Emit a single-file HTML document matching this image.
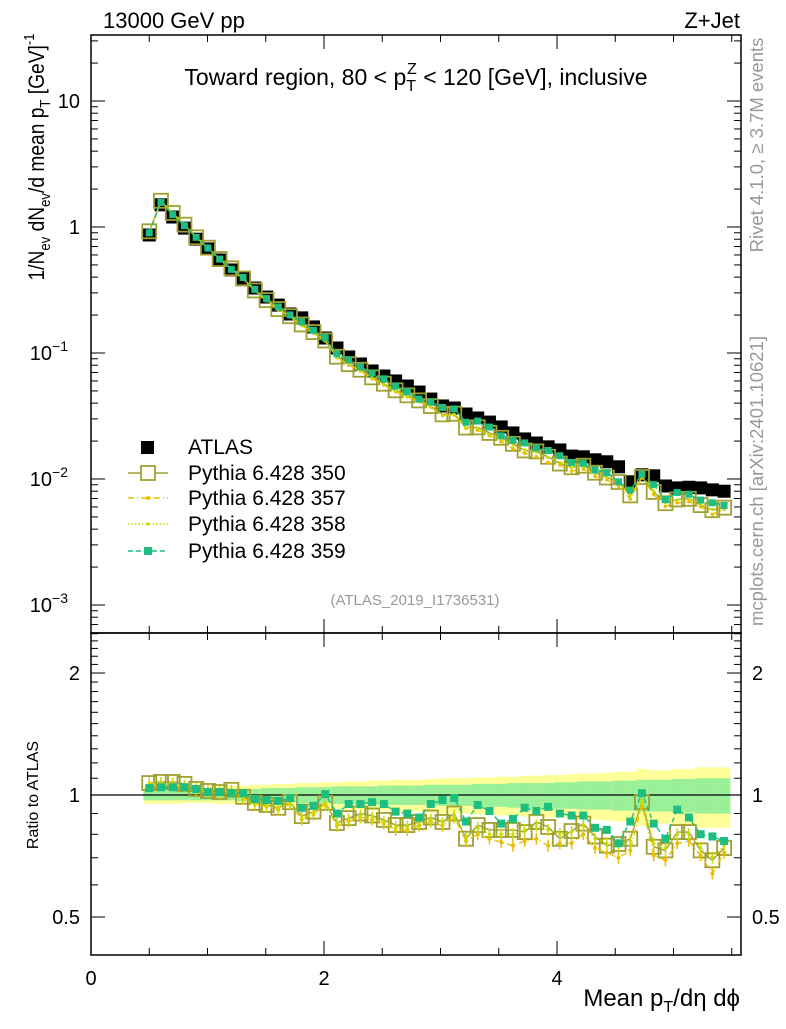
<!DOCTYPE html>
<html><head><meta charset="utf-8"><style>
body{margin:0;background:#fff;}
svg text{font-family:"Liberation Sans",sans-serif;}
</style></head><body>
<svg id="c" width="786" height="1024" viewBox="0 0 786 1024" xmlns="http://www.w3.org/2000/svg"></svg>
<script>
const atlas=[0.864,1.50,1.20,0.98,0.80,0.67,0.547,0.456,0.394,0.328,0.278,0.240,0.204,0.190,0.161,0.1315,0.1096,0.093,0.0818,0.072,0.0657,0.060,0.0547,0.049,0.0431,0.0380,0.0366,0.0328,0.0305,0.0283,0.0259,0.0232,0.0208,0.0193,0.0180,0.0170,0.0152,0.0150,0.0142,0.0137,0.0125,0.0095,0.0108,0.0106,0.0088,0.0085,0.0086,0.0085,0.0082,0.0080];
const r359=[1.04,1.045,1.045,1.045,1.035,1.017,1.017,1.012,1.01,0.977,0.972,0.967,0.983,0.93,0.94,1.005,0.90,0.95,0.95,0.96,0.95,0.91,0.90,0.88,0.95,0.972,0.983,0.86,0.945,0.913,0.85,0.873,0.93,0.913,0.935,0.90,0.89,0.89,0.83,0.82,0.76,0.86,1.01,0.85,0.78,0.92,0.88,0.80,0.79,0.77];
const r350=[1.07,1.077,1.077,1.065,1.035,1.023,1.017,1.03,0.99,0.956,0.945,0.93,0.96,0.887,0.91,0.956,0.853,0.877,0.90,0.89,0.868,0.843,0.843,0.858,0.88,0.858,0.90,0.78,0.843,0.82,0.82,0.82,0.81,0.858,0.834,0.78,0.815,0.85,0.79,0.75,0.757,0.78,0.96,0.745,0.73,0.81,0.81,0.73,0.69,0.74];
const r357=[1.06,1.065,1.06,1.05,1.03,1.02,1.01,1.02,0.98,0.95,0.935,0.92,0.95,0.87,0.895,0.95,0.84,0.86,0.88,0.87,0.85,0.82,0.82,0.84,0.86,0.84,0.88,0.77,0.80,0.78,0.765,0.75,0.77,0.78,0.75,0.76,0.76,0.80,0.74,0.72,0.70,0.73,0.95,0.71,0.69,0.76,0.77,0.71,0.64,0.72];
const r358=[1.07,1.07,1.065,1.055,1.04,1.02,1.015,1.025,0.985,0.955,0.94,0.93,0.955,0.88,0.905,0.955,0.85,0.87,0.89,0.88,0.86,0.835,0.835,0.85,0.87,0.85,0.89,0.78,0.83,0.80,0.80,0.80,0.82,0.84,0.82,0.80,0.81,0.84,0.78,0.76,0.75,0.77,0.97,0.76,0.74,0.80,0.80,0.74,0.70,0.75];
const errG=[.03,.03,.03,.03,.03,.03,.03,.03,.035,.035,.04,.04,.04,.045,.045,.045,.05,.05,.05,.05,.055,.055,.055,.055,.06,.06,.06,.06,.065,.065,.065,.07,.07,.07,.07,.075,.075,.08,.08,.08,.085,.085,.09,.09,.09,.095,.095,.1,.1,.1];
const errY=[.05,.05,.05,.045,.045,.045,.05,.05,.055,.06,.06,.065,.065,.07,.07,.075,.075,.08,.08,.085,.085,.09,.09,.09,.095,.1,.1,.1,.105,.105,.11,.11,.115,.115,.12,.12,.125,.13,.13,.135,.14,.14,.16,.15,.15,.16,.16,.17,.17,.17];
const xTicks=[0,2,4];
const yTicks=[{v:10,l:"10"},{v:1,l:"1"},{v:0.1,l:"10",e:"−1"},{v:0.01,l:"10",e:"−2"},{v:0.001,l:"10",e:"−3"}];
const rTicks=[0.5,1,2];

const svg=document.getElementById('c');
const NS="http://www.w3.org/2000/svg";
const L=91,R=741,T=35,M=633,B=955;
const xs=v=>L+v*116.5;
const ys=v=>227-126*Math.log10(v);
const yr=v=>795-122*Math.log2(v);
const xv=i=>0.5+i*0.1007;
function el(t,a,p){const e=document.createElementNS(NS,t);for(const k in a)e.setAttribute(k,a[k]);(p||svg).appendChild(e);return e;}
function txt(x,y,s,a,p){const e=el('text',Object.assign({x:x,y:y},a),p);e.textContent=s;return e;}

const gB=el('g',{});
atlas.forEach((_,i)=>{const x0=xs(xv(i)-0.05),w=xs(xv(i)+0.05)-x0;
 const a=el('rect',{x:x0,y:yr(1+errY[i]),width:w+0.5,height:yr(1-errY[i])-yr(1+errY[i]),fill:'#ffff99'},gB);
 
 const b=el('rect',{x:x0,y:yr(1+errG[i]),width:w+0.5,height:yr(1-errG[i])-yr(1+errG[i]),fill:'#99f099'},gB);
 });
const one=el('line',{x1:L,x2:R,y1:yr(1),y2:yr(1),stroke:'#000','stroke-width':1.3});


function series(vals,isRatio,name,color,dash,mk,sz,fillMk){
 const g=el('g',{});
 const Y=isRatio?yr:ys;
 const pts=vals.map((v,i)=>[xs(xv(i)),Y(isRatio?v:atlas[i]*v)]);
 const pl=el('polyline',{points:pts.map(p=>p.join(',')).join(' '),fill:'none',stroke:color,'stroke-width':1.4,'stroke-dasharray':dash},g);
 
 pts.forEach(p=>{
  if(mk==='sq'){const m=el('rect',{x:p[0]-sz/2,y:p[1]-sz/2,width:sz,height:sz,fill:fillMk?color:'none',stroke:color,'stroke-width':fillMk?0:1.8},g);
   }
  else{const m=el('circle',{cx:p[0],cy:p[1],r:sz,fill:color},g);
   
   if(isRatio){const e=el('line',{x1:p[0],x2:p[0],y1:p[1]-6,y2:p[1]+6,stroke:color,'stroke-width':1.5},g);
   }}
 });
}
const ga=el('g',{});
atlas.forEach((v,i)=>{const r=el('rect',{x:xs(xv(i))-6.5,y:ys(v)-6.5,width:13,height:13,fill:'#000'},ga);
 });
series(r350,false,'pythia-350','#a0a030','',  'sq',14,false);
series(r357,false,'pythia-357','#e8c000','6,3,1,3','c',1.8);
series(r358,false,'pythia-358','#c8dc00','1.5,2','c',1.5);
series(r359,false,'pythia-359','#1cbf80','5,3','sq',7,true);
series(r350,true,'ratio-350','#a0a030','','sq',14,false);
series(r357,true,'ratio-357','#e8c000','6,3,1,3','c',2);
series(r358,true,'ratio-358','#c8dc00','1.5,2','c',1.6);
series(r359,true,'ratio-359','#1cbf80','5,3','sq',8,true);

[[T,M],[M,B]].forEach((f,k)=>{const r=el('rect',{x:L,y:f[0],width:R-L,height:f[1]-f[0],fill:'none',stroke:'#000','stroke-width':1.5});
 });
const tk=el('g',{stroke:'#000','stroke-width':1});
for(let v=0;v<=5.5;v+=0.5){const maj=v%2===0,len=maj?14:7;const x=xs(v);
 [[T,1],[M,-1],[M,1],[B,-1]].forEach(([y,d])=>el('line',{x1:x,x2:x,y1:y,y2:y+d*len},tk));}
for(let d=-4;d<=1;d++)for(let m=1;m<10;m++){const v=m*Math.pow(10,d),y=ys(v);if(y<T||y>M)continue;const len=m===1?14:7;
 el('line',{x1:L,x2:L+len,y1:y,y2:y},tk);el('line',{x1:R,x2:R-len,y1:y,y2:y},tk);}
for(let v=0.4;v<2.55;v+=0.1){const y=yr(v);if(y<M||y>B)continue;const maj=[0.5,1,2].some(q=>Math.abs(q-v)<1e-6);const len=maj?14:7;
 el('line',{x1:L,x2:L+len,y1:y,y2:y},tk);el('line',{x1:R,x2:R-len,y1:y,y2:y},tk);}
xTicks.forEach(v=>{const t=txt(xs(v),985,String(v),{'font-size':20,'text-anchor':'middle'});});
yTicks.forEach(o=>{const t=txt(o.e?68:80,ys(o.v)+7,o.l,{'font-size':20,'text-anchor':'end'});
 if(o.e){const s=el('tspan',{dy:-9,'font-size':14},t);s.textContent=o.e;}});
rTicks.forEach(v=>{[[80,'end'],[752,'start']].forEach(([x,a])=>{const t=txt(x,yr(v)+7,String(v),{'font-size':20,'text-anchor':a});});});
</script>
<svg width="786" height="1024" style="position:absolute;left:0;top:0">
<text x="103" y="28" font-size="22" font-family="Liberation Sans">13000 GeV pp</text>
<text x="740" y="28" font-size="22" text-anchor="end" font-family="Liberation Sans">Z+Jet</text>
<text x="416" y="85" font-size="23" text-anchor="middle" font-family="Liberation Sans">Toward region, 80 &lt; p<tspan font-size="16" dy="6">T</tspan><tspan font-size="16" dy="-17" dx="-9">Z</tspan><tspan dy="11"> &lt; 120 [GeV], inclusive</tspan></text>
<text x="415" y="605" font-size="15" fill="#999" text-anchor="middle" font-family="Liberation Sans">(ATLAS_2019_I1736531)</text>
<text transform="translate(44,157) rotate(-90)" font-size="22" text-anchor="middle" textLength="247" lengthAdjust="spacingAndGlyphs" font-family="Liberation Sans">1/N<tspan font-size="15" dy="6">ev</tspan><tspan dy="-6"> dN</tspan><tspan font-size="15" dy="6">ev</tspan><tspan dy="-6">/d mean p</tspan><tspan font-size="15" dy="6">T</tspan><tspan dy="-6"> [GeV]</tspan><tspan font-size="15" dy="-10">-1</tspan></text>
<text transform="translate(38,795) rotate(-90)" font-size="16" text-anchor="middle" font-family="Liberation Sans">Ratio to ATLAS</text>
<text x="740" y="1006" font-size="24" text-anchor="end" font-family="Liberation Sans">Mean p<tspan font-size="16" dy="6">T</tspan><tspan dy="-6">/dη dϕ</tspan></text>
<text transform="translate(763,145) rotate(-90)" font-size="18.5" fill="#999" text-anchor="middle" font-family="Liberation Sans">Rivet 4.1.0, ≥ 3.7M events</text>
<text transform="translate(763,481) rotate(-90)" font-size="18.5" fill="#999" text-anchor="middle" font-family="Liberation Sans">mcplots.cern.ch [arXiv:2401.10621]</text>
<g font-family="Liberation Sans" font-size="21">
<rect x="141" y="441" width="13" height="13" fill="#000"/>
<text x="188" y="454">ATLAS</text>
<line x1="128" x2="168" y1="473" y2="473" stroke="#a0a030" stroke-width="1.4"/>
<rect x="141" y="466" width="14" height="14" fill="#fff" stroke="#a0a030" stroke-width="1.8"/>
<text x="188" y="480">Pythia 6.428 350</text>
<line x1="128" x2="168" y1="498" y2="498" stroke="#e8c000" stroke-width="1.4" stroke-dasharray="6,3,1,3"/>
<circle cx="148" cy="498" r="2" fill="#e8c000"/>
<text x="188" y="505">Pythia 6.428 357</text>
<line x1="128" x2="168" y1="524" y2="524" stroke="#c8dc00" stroke-width="1.4" stroke-dasharray="1.5,2"/>
<circle cx="148" cy="524" r="1.6" fill="#c8dc00"/>
<text x="188" y="531">Pythia 6.428 358</text>
<line x1="128" x2="168" y1="551" y2="551" stroke="#1cbf80" stroke-width="1.4" stroke-dasharray="5,3"/>
<rect x="144" y="547" width="8" height="8" fill="#1cbf80"/>
<text x="188" y="558">Pythia 6.428 359</text>
</g>
</svg>
</body></html>
